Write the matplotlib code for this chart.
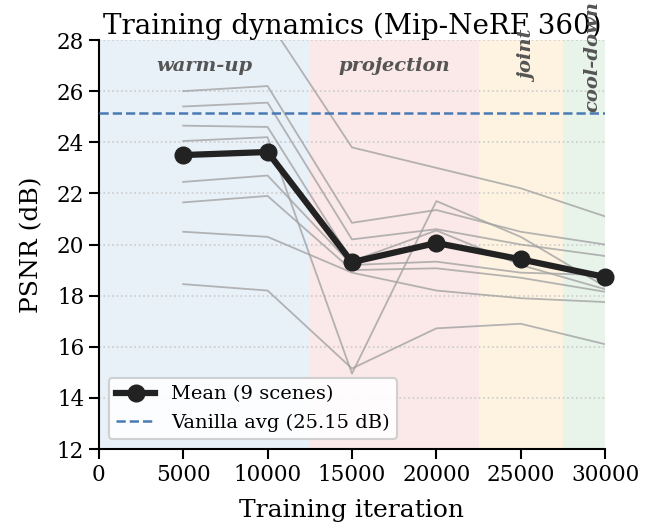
import numpy as np
import matplotlib
matplotlib.use('Agg')
import matplotlib.pyplot as plt

# training iterations at which PSNR was logged
ITERS = [5000, 10000, 15000, 20000, 25000, 30000]

# per-scene PSNR (dB)
SCENE_1 = [30.0, 28.8, 23.8, 23.0, 22.2, 21.1]
SCENE_2 = [26.0, 26.2, 20.85, 21.35, 20.5, 20.0]
SCENE_3 = [25.4, 25.55, 20.2, 20.6, 20.0, 19.55]
SCENE_4 = [24.65, 24.6, 19.35, 20.55, 19.2, 18.25]
SCENE_5 = [24.05, 24.2, 14.95, 21.7, 20.3, 18.35]
SCENE_6 = [22.45, 22.7, 19.2, 19.33, 18.9, 18.8]
SCENE_7 = [21.65, 21.9, 19.0, 19.07, 18.7, 18.15]
SCENE_8 = [20.5, 20.3, 18.9, 18.2, 17.9, 17.75]
SCENE_9 = [18.45, 18.2, 15.15, 16.72, 16.9, 16.1]
SCENES = [SCENE_1, SCENE_2, SCENE_3, SCENE_4, SCENE_5,
          SCENE_6, SCENE_7, SCENE_8, SCENE_9]

MEAN_PSNR = [23.5, 23.62, 19.31, 20.06, 19.42, 18.73]
VANILLA_AVG = 25.15

# training phases
PHASE_NAMES = ['warm-up', 'projection', 'joint', 'cool-down']
PHASE_EDGES = [0, 12500, 22500, 27500, 30000]
PHASE_COLORS = ['#e8f0f8', '#fbe8e8', '#fef3e0', '#e8f3ea']

plt.rcParams['font.family'] = 'DejaVu Serif'

fig = plt.figure(figsize=(6.5, 5.27), dpi=100)
ax = fig.add_axes([0.152, 0.148, 0.779, 0.776])

# shaded phases + labels
for i, name in enumerate(PHASE_NAMES):
    lo, hi = PHASE_EDGES[i], PHASE_EDGES[i + 1]
    ax.axvspan(lo, hi, color=PHASE_COLORS[i], lw=0, zorder=0)
    mid = (lo + hi) / 2
    if hi - lo >= 10000:
        ax.text(mid, 27.0, name, ha='center', va='center', fontsize=14,
                style='italic', weight='bold', color='#555555', zorder=5)
    else:
        ax.text(mid + 500, 27.35, name, ha='center', va='center', fontsize=14,
                style='italic', weight='bold', color='#555555', rotation=90,
                zorder=5, clip_on=False)

# individual scenes
for s in SCENES:
    ax.plot(ITERS, s, color='#a3a3a3', lw=1.3, alpha=0.8, zorder=2)

# mean curve
ax.plot(ITERS, MEAN_PSNR, color='#222222', lw=4.5, marker='o', markersize=12,
        label='Mean (9 scenes)', zorder=4, clip_on=False)

# vanilla reference
ax.axhline(VANILLA_AVG, color='#4a7ab4', ls='--', lw=1.8,
           label=f'Vanilla avg ({VANILLA_AVG:.2f} dB)', zorder=3)

ax.set_xlim(0, 30000)
ax.set_ylim(12, 28)
ax.set_xticks(range(0, 30001, 5000))
ax.set_yticks(range(12, 29, 2))
ax.yaxis.grid(True, ls=':', color='#cccccc', lw=1.2)
ax.set_axisbelow(True)

for side in ['top', 'right']:
    ax.spines[side].set_visible(False)
for side in ['left', 'bottom']:
    ax.spines[side].set_linewidth(1.5)
ax.tick_params(labelsize=15.5, length=7, width=1.5)

ax.set_xlabel('Training iteration', fontsize=18, labelpad=10)
ax.set_ylabel('PSNR (dB)', fontsize=18, labelpad=10)
ax.set_title('Training dynamics (Mip-NeRF 360)', fontsize=20, pad=2)

leg = ax.legend(loc='lower left', fontsize=14, framealpha=0.9,
                edgecolor='#cccccc', borderpad=0.4)
leg.get_frame().set_linewidth(1.5)

fig.savefig('out.png', dpi=100)
